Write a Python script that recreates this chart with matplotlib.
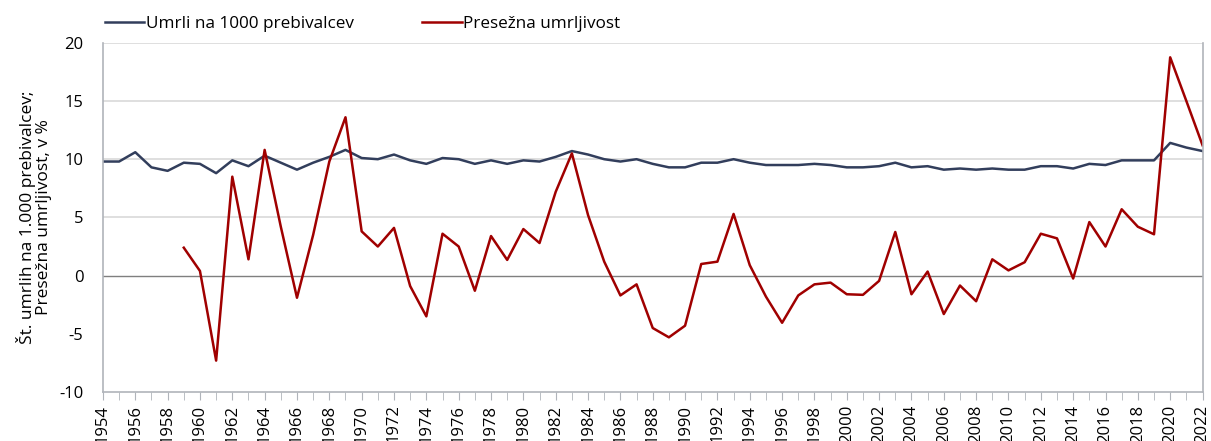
import matplotlib.pyplot as plt
import numpy as np

plt.rcParams["font.family"] = ["Open Sans", "DejaVu Sans"]
plt.rcParams["axes.unicode_minus"] = False

years = np.arange(1954, 2023)

deaths_per_1000 = [
    9.8, 9.8, 10.6, 9.3, 9.0, 9.7, 9.6, 8.8, 9.9, 9.4,
    10.3, 9.7, 9.1, 9.7, 10.2, 10.8, 10.1, 10.0, 10.4, 9.9,
    9.6, 10.1, 10.0, 9.6, 9.9, 9.6, 9.9, 9.8, 10.2, 10.7,
    10.4, 10.0, 9.8, 10.0, 9.6, 9.3, 9.3, 9.7, 9.7, 10.0,
    9.7, 9.5, 9.5, 9.5, 9.6, 9.5, 9.3, 9.3, 9.4, 9.7,
    9.3, 9.4, 9.1, 9.2, 9.1, 9.2, 9.1, 9.1, 9.4, 9.4,
    9.2, 9.6, 9.5, 9.9, 9.9, 9.9, 11.4, 11.0, 10.7,
]

excess_years = np.arange(1959, 2023)
excess_mortality = [
    2.4, 0.4, -7.3, 8.5, 1.4, 10.8, 4.2, -1.9, 3.5, 9.8,
    13.6, 3.8, 2.5, 4.1, -0.9, -3.5, 3.6, 2.5, -1.3, 3.4,
    1.35, 4.0, 2.8, 7.2, 10.5, 5.2, 1.2, -1.7, -0.75, -4.5,
    -5.3, -4.3, 1.0, 1.2, 5.3, 0.9, -1.8, -4.05, -1.7, -0.75,
    -0.6, -1.6, -1.65, -0.45, 3.75, -1.6, 0.35, -3.3, -0.85, -2.2,
    1.4, 0.45, 1.15, 3.6, 3.2, -0.25, 4.6, 2.5, 5.7, 4.2,
    3.55, 18.75, 15.0, 11.2,
]

fig = plt.figure(figsize=(12.11, 4.41), dpi=100)
ax = fig.add_axes([0.085, 0.111, 0.908, 0.792])

ax.plot(years, deaths_per_1000, color="#323e5c", lw=1.8, label="Umrli na 1000 prebivalcev")
ax.plot(excess_years, excess_mortality, color="#a00000", lw=1.8, label="Presežna umrljivost")

ax.set_xlim(1954, 2022)
ax.set_ylim(-10, 20)
ax.set_yticks(np.arange(-10, 21, 5))
ax.set_xticks(np.arange(1954, 2023, 2))
ax.set_xticks(np.arange(1954, 2023, 1), minor=True)
ax.tick_params(axis="x", which="both", rotation=90, length=6, color="#b0b4ba", labelsize=12, pad=3)
ax.tick_params(axis="y", length=0, labelsize=12, pad=14)

for y in [5, 10, 15, 20]:
    ax.axhline(y, color="#d9d9d9", lw=1.2, zorder=0)
ax.axhline(0, color="#7f7f7f", lw=1.0, zorder=1)

for side in ["left", "bottom", "right"]:
    ax.spines[side].set_color("#b0b4ba")
    ax.spines[side].set_linewidth(1.2)
ax.spines["top"].set_visible(False)

ax.set_ylabel("Št. umrlih na 1.000 prebivalcev;\nPresežna umrljivost, v %", fontsize=12.5, labelpad=5, linespacing=1.0)

ax.legend(loc="lower left", bbox_to_anchor=(0.002, 1.03), ncol=2, frameon=False, fontsize=12.3,
          handlelength=2.3, handletextpad=0.1, columnspacing=4.0, borderaxespad=0, borderpad=0)

fig.savefig("out.png", dpi=100)
